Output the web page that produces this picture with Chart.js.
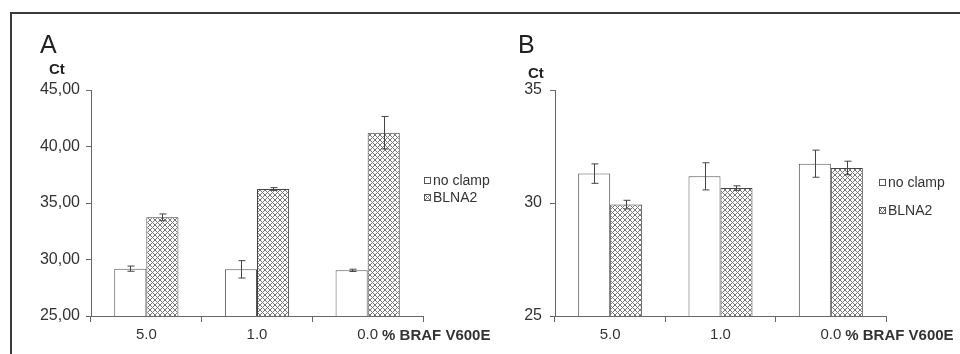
<!DOCTYPE html>
<html>
<head>
<meta charset="utf-8">
<script src="https://cdn.jsdelivr.net/npm/chart.js@4.4.1/dist/chart.umd.min.js"></script>
<style>
  html, body { margin: 0; padding: 0; background: #fff; }
  body { width: 960px; height: 354px; position: relative; overflow: hidden; }
  #frame { position: absolute; left: 10px; top: 12px; width: 980px; height: 400px;
           border-top: 2px solid #3a3a3a; border-left: 2px solid #3a3a3a; }
  #wrapA { position: absolute; left: 0; top: 0; width: 520px; height: 354px; }
  #wrapB { position: absolute; left: 480px; top: 0; width: 480px; height: 354px; }
</style>
</head>
<body>
<div id="frame"></div>
<div id="wrapA"><canvas id="chartA" width="520" height="354"></canvas></div>
<div id="wrapB"><canvas id="chartB" width="480" height="354"></canvas></div>
<script>
// data
let categories = ['5.0', '1.0', '0.0']
let seriesNames = ['no clamp', 'BLNA2']

let noClampA = [29.19, 29.13, 29.04]
let noClampErrA = [0.23, 0.77, 0.10]
let blnaA = [33.73, 36.24, 41.22]
let blnaErrA = [0.30, 0.12, 1.44]

let noClampB = [31.30, 31.18, 31.74]
let noClampErrB = [0.43, 0.60, 0.60]
let blnaB = [29.93, 30.66, 31.55]
let blnaErrB = [0.19, 0.10, 0.30]

let ticksA = [25, 30, 35, 40, 45]
let ticksB = [25, 30, 35]

Chart.defaults.font.family = '"Liberation Sans", Arial, sans-serif'
Chart.defaults.color = '#333'
Chart.defaults.animation = false

function makeHatch(){
    let c = document.createElement('canvas')
    c.width = 5
    c.height = 5
    let g = c.getContext('2d')
    g.fillStyle = '#fff'
    g.fillRect(0, 0, 5, 5)
    g.strokeStyle = '#777'
    g.lineWidth = 1
    g.beginPath()
    g.moveTo(-1, -1); g.lineTo(6, 6)
    g.moveTo(-1, 6); g.lineTo(6, -1)
    g.stroke()
    return g.createPattern(c, 'repeat')
}
let hatch = makeHatch()

// error bars drawn through the y scale
let errorBarPlugin = {
    id: 'errorBars',
    afterDatasetsDraw(chart){
        let ctx = chart.ctx
        let yScale = chart.scales.y
        ctx.save()
        ctx.strokeStyle = '#444'
        ctx.lineWidth = 1
        chart.data.datasets.forEach(function(ds, i){
            let meta = chart.getDatasetMeta(i)
            meta.data.forEach(function(bar, j){
                let v = ds.data[j]
                let e = ds.errors[j]
                let x = Math.round(bar.x) + 0.5
                let yTop = yScale.getPixelForValue(v + e)
                let yBot = yScale.getPixelForValue(v - e)
                ctx.beginPath()
                ctx.moveTo(x, yTop); ctx.lineTo(x, yBot)
                ctx.moveTo(x - 3, yTop); ctx.lineTo(x + 4, yTop)
                ctx.moveTo(x - 3, yBot); ctx.lineTo(x + 4, yBot)
                ctx.stroke()
            })
        })
        ctx.restore()
    }
}

// panel letter, axis title, legend and unit text
let annotPlugin = {
    id: 'annot',
    afterDraw(chart){
        let o = chart.options.plugins.annot
        let ctx = chart.ctx
        ctx.save()
        ctx.fillStyle = '#222'
        ctx.textBaseline = 'alphabetic'
        ctx.textAlign = 'left'
        ctx.font = '25px "Liberation Sans", Arial, sans-serif'
        ctx.fillText(o.letter, o.letterX, 53)
        ctx.font = 'bold 15px "Liberation Sans", Arial, sans-serif'
        ctx.fillText('Ct', o.ctX, o.ctY)

        // unit after the last category label
        let xScale = chart.scales.x
        let lastX = xScale.getPixelForTick(categories.length - 1)
        ctx.font = '15px "Liberation Sans", Arial, sans-serif'
        let w = ctx.measureText(categories[categories.length - 1]).width
        ctx.font = 'bold 15px "Liberation Sans", Arial, sans-serif'
        ctx.fillStyle = '#333'
        ctx.textBaseline = 'middle'
        ctx.fillText('% BRAF V600E', lastX + w / 2 + 4, 336)

        // legend
        ctx.font = '14px "Liberation Sans", Arial, sans-serif'
        chart.data.datasets.forEach(function(ds, i){
            let y = o.legendY[i]
            ctx.fillStyle = ds.backgroundColor
            ctx.fillRect(o.legendX, y - 3, 7, 7)
            ctx.strokeStyle = '#555'
            ctx.lineWidth = 1
            ctx.strokeRect(o.legendX + 0.5, y - 2.5, 6, 6)
            ctx.fillStyle = '#333'
            ctx.fillText(ds.label, o.legendX + 9, y + 1)
        })
        ctx.restore()
    }
}

function makeChart(canvasId, noClamp, noClampErr, blna, blnaErr, yMin, yMax, yTicks, fmt, axisWidth, padRight, labelPad, annot){
    let ctx = document.getElementById(canvasId).getContext('2d')
    return new Chart(ctx, {
        type: 'bar',
        data: {
            labels: categories,
            datasets: [{
                label: seriesNames[0],
                data: noClamp,
                errors: noClampErr,
                backgroundColor: '#ffffff',
                borderColor: '#555',
                borderWidth: 1
            }, {
                label: seriesNames[1],
                data: blna,
                errors: blnaErr,
                backgroundColor: hatch,
                borderColor: '#444',
                borderWidth: 1
            }]
        },
        options: {
            responsive: false,
            categoryPercentage: 0.58,
            barPercentage: 1.0,
            layout: { padding: { left: 0, right: padRight, top: 90, bottom: 0 } },
            plugins: {
                legend: { display: false },
                tooltip: { enabled: false },
                annot: annot
            },
            scales: {
                x: {
                    grid: { display: true, drawOnChartArea: false, drawTicks: true, tickLength: 6, color: '#666', offset: true },
                    border: { display: true, color: '#666' },
                    ticks: { font: { size: 15 }, color: '#333', padding: 4, maxRotation: 0 },
                    afterFit(scale){ scale.height = 38 }
                },
                y: {
                    min: yMin,
                    max: yMax,
                    afterBuildTicks(scale){ scale.ticks = yTicks.map(function(v){ return { value: v } }) },
                    grid: { display: true, drawOnChartArea: false, drawTicks: true, tickLength: 5, color: '#666' },
                    border: { display: true, color: '#666' },
                    ticks: { font: { size: 16 }, color: '#333', padding: labelPad, callback: fmt },
                    afterFit(scale){ scale.width = axisWidth }
                }
            }
        },
        plugins: [errorBarPlugin, annotPlugin]
    })
}

makeChart('chartA', noClampA, noClampErrA, blnaA, blnaErrA, 25, 45, ticksA,
    function(v){ return v.toFixed(2).replace('.', ',') }, 91, 97, 6,
    { letter: 'A', letterX: 40, ctX: 49, ctY: 74, legendX: 424, legendY: [180, 197] })

makeChart('chartB', noClampB, noClampErrB, blnaB, blnaErrB, 25, 35, ticksB,
    function(v){ return String(v) }, 75, 74, 8,
    { letter: 'B', letterX: 38, ctX: 48, ctY: 78, legendX: 399, legendY: [182, 210] })
</script>
</body>
</html>
